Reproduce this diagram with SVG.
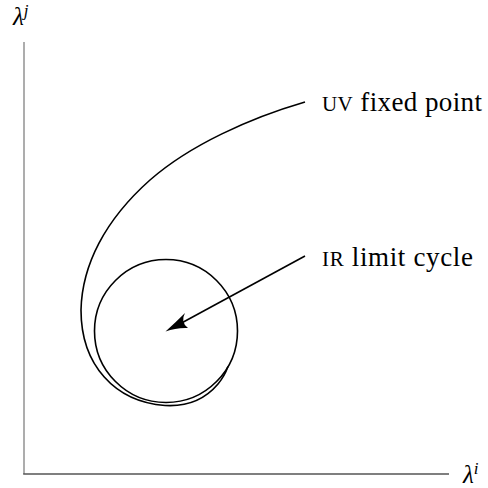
<svg xmlns="http://www.w3.org/2000/svg" width="488" height="488" viewBox="0 0 488 488">
<style>
.curve{fill:none;stroke:#000;stroke-width:1.6}
.lbl{font-family:"Liberation Serif","Times New Roman",serif;font-size:27px;fill:#000}
.math{font-family:"Liberation Serif","Times New Roman",serif;font-style:italic;font-size:25px;fill:#000}
</style>
<rect width="488" height="488" fill="#fff"/>
<g id="axes">
<line x1="24" y1="42" x2="24" y2="474" stroke="#999" stroke-width="1.6"/>
<line x1="23.2" y1="474" x2="449" y2="474" stroke="#555" stroke-width="1.6"/>
</g>
<g id="axis-y-label"><text class="math" x="13" y="25">λ<tspan font-size="17" dy="-9">j</tspan></text></g>
<g id="axis-x-label"><text class="math" x="463" y="483">λ<tspan font-size="17" dy="-9">i</tspan></text></g>
<g id="limit-cycle"><circle class="curve" cx="166" cy="331" r="71.5"/></g>
<g id="connectors">
<path id="trajectory" class="curve" d="M305,102 C250,118 190,145 150,180 C105,220 82,265 81,310 C81,365 115,402 165,405.5 C190,407 207,397 218,384 C223,378 226,372 228,366.5"/>
<line class="curve" x1="305" y1="256" x2="176" y2="326"/>
<path d="M165.5,331.5 Q176,322 185,313 Q180,322 188,328 Q176,327.5 165.5,331.5 Z" fill="#000"/>
</g>
<g id="uv-label"><text class="lbl" x="322" y="111" textLength="160" lengthAdjust="spacing"><tspan font-size="21">UV</tspan> fixed point</text></g>
<g id="ir-label"><text class="lbl" x="322" y="266" textLength="151" lengthAdjust="spacing"><tspan font-size="21">IR</tspan> limit cycle</text></g>
</svg>
